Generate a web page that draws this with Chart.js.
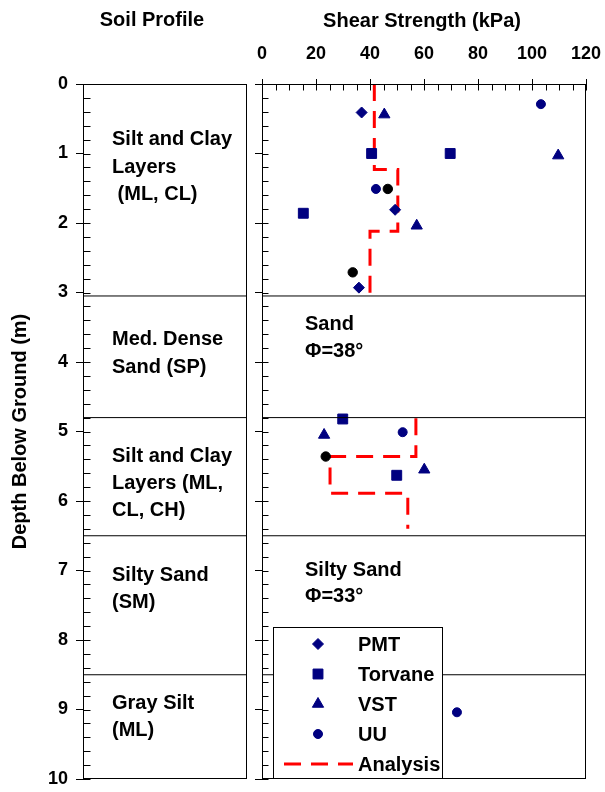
<!DOCTYPE html>
<html lang="en">
<head>
<meta charset="UTF-8">
<title>Soil Profile and Shear Strength</title>
<style>
    body { margin: 0; background: #fff; }
    #wrap { position: relative; width: 605px; height: 792px; }
    canvas { position: absolute; left: 0; top: 0; }
</style>
</head>
<body>
<div id="wrap">
    <canvas id="profileChart" width="605" height="792"></canvas>
    <canvas id="strengthChart" width="605" height="792"></canvas>
</div>

<script src="https://cdn.jsdelivr.net/npm/chart.js"></script>
<script>
    // tick labels
    const depthTicks = [0, 1, 2, 3, 4, 5, 6, 7, 8, 9, 10];
    const strengthTicks = [0, 20, 40, 60, 80, 100, 120];

    // layer boundaries (m) and soil descriptions
    const layerBounds = [3.05, 4.8, 6.5, 8.5];
    const layerNames = [
        ["Silt and Clay", "Layers", " (ML, CL)"],
        ["Med. Dense", "Sand (SP)"],
        ["Silt and Clay", "Layers (ML,", "CL, CH)"],
        ["Silty Sand", "(SM)"],
        ["Gray Silt", "(ML)"]
    ];
    const layerNotes = [
        ["Sand", "Φ=38°"],
        ["Silty Sand", "Φ=33°"]
    ];

    // measurements, x = shear strength (kPa), y = depth (m)
    const pmtData = [{x: 36.9, y: 0.41}, {x: 49.3, y: 1.81}, {x: 35.9, y: 2.93}];
    const torvaneData = [{x: 40.6, y: 1.0}, {x: 69.7, y: 1.0}, {x: 15.3, y: 1.86},
        {x: 29.9, y: 4.82}, {x: 49.9, y: 5.63}];
    const vstData = [{x: 45.3, y: 0.44}, {x: 109.7, y: 1.03}, {x: 57.3, y: 2.04},
        {x: 23.0, y: 5.05}, {x: 60.1, y: 5.55}];
    const uuData = [{x: 103.3, y: 0.29}, {x: 42.2, y: 1.51}, {x: 52.1, y: 5.01}, {x: 72.2, y: 9.04}];
    const uuBlackData = [{x: 46.6, y: 1.51}, {x: 33.6, y: 2.71}, {x: 23.6, y: 5.36}];

    // analysis profile (step line)
    const analysisUpper = [{x: 41.6, y: 0}, {x: 41.6, y: 1.23}, {x: 50.3, y: 1.23}, {x: 50.3, y: 2.12},
        {x: 40.0, y: 2.12}, {x: 40.0, y: 3.03}];
    const analysisLower = [{x: 57.0, y: 4.81}, {x: 57.0, y: 5.36}, {x: 25.2, y: 5.36}, {x: 25.2, y: 5.89},
        {x: 54.0, y: 5.89}, {x: 54.0, y: 6.4}];

    const FONT = '"Liberation Sans", Arial, sans-serif';
    const NAVY = '#000080';
    const RED = '#ff0000';
    const DASH = [17, 10];

    // keep the plot area where it is: no extra room for edge labels
    const noEdgePadding = s => {
        s.paddingTop = 0; s.paddingBottom = 0;
        s.paddingLeft = 0; s.paddingRight = 0;
    };

    // box round the plot area + small inside ticks
    const framePlugin = {
        id: 'frame',
        afterDraw(chart, args, opts) {
            const { ctx, chartArea: a } = chart;
            const L = Math.round(a.left) + 0.5, T = Math.round(a.top) + 0.5;
            const R = Math.round(a.right) - 0.5, B = Math.round(a.bottom) - 0.5;
            ctx.save();
            ctx.strokeStyle = '#000';
            ctx.lineWidth = 1;
            ctx.strokeRect(L, T, R - L, B - T);
            ctx.beginPath();
            const ys = chart.scales.y;
            for (let i = 0; i <= 50; i++) {
                const py = Math.round(ys.getPixelForValue(i * 0.2)) + 0.5;
                ctx.moveTo(L, py);
                ctx.lineTo(L + opts.yTick, py);
            }
            if (opts.xTick) {
                const xs = chart.scales.x;
                for (let v = 0; v <= 120; v += 5) {
                    const px = Math.round(xs.getPixelForValue(v)) + 0.5;
                    ctx.moveTo(px, T);
                    ctx.lineTo(px, T + opts.xTick);
                }
            }
            ctx.stroke();
            ctx.restore();
        }
    };

    // text blocks inside panels
    const textPlugin = {
        id: 'texts',
        afterDraw(chart, args, opts) {
            const { ctx } = chart;
            ctx.save();
            ctx.fillStyle = '#000';
            ctx.textBaseline = 'alphabetic';
            ctx.font = 'bold 20px ' + FONT;
            opts.blocks.forEach((b, i) => {
                opts.lines[i].forEach((t, j) => {
                    ctx.textAlign = 'left';
                    ctx.fillText(t, b.x, b.y + j * b.gap);
                });
            });
            (opts.titles || []).forEach(t => {
                ctx.textAlign = 'center';
                ctx.fillText(t.text, t.x, t.y);
            });
            ctx.restore();
        }
    };

    // boxed legend, bottom left of strength panel
    const legendPlugin = {
        id: 'boxLegend',
        afterDraw(chart) {
            const { ctx } = chart;
            const items = chart.data.datasets.filter(d => !d.noLegend);
            const bx = 273.5, by = 627.5, bw = 169, bh = 151;
            ctx.save();
            ctx.fillStyle = '#fff';
            ctx.fillRect(bx, by, bw, bh);
            ctx.strokeStyle = '#000';
            ctx.lineWidth = 1;
            ctx.strokeRect(bx, by, bw, bh);
            ctx.font = 'bold 20px ' + FONT;
            ctx.textBaseline = 'middle';
            ctx.textAlign = 'left';
            items.forEach((d, i) => {
                const y = 644 + i * 30;
                if (d.showLine) {
                    ctx.save();
                    ctx.strokeStyle = d.borderColor;
                    ctx.lineWidth = d.borderWidth;
                    ctx.setLineDash(d.borderDash);
                    ctx.beginPath();
                    ctx.moveTo(284, y);
                    ctx.lineTo(353, y);
                    ctx.stroke();
                    ctx.restore();
                } else {
                    ctx.fillStyle = d.backgroundColor;
                    ctx.strokeStyle = d.borderColor;
                    Chart.helpers.drawPoint(ctx, {
                        pointStyle: d.pointStyle, radius: d.pointRadius, rotation: 0, borderWidth: 1
                    }, 318, y);
                }
                ctx.fillStyle = '#000';
                ctx.fillText(d.label, 358, y + 1);
            });
            ctx.restore();
        }
    };

    const tickFont = { family: FONT, size: 18, weight: 'bold' };

    // left panel: soil profile
    new Chart(document.getElementById('profileChart'), {
        type: 'scatter',
        data: {
            datasets: layerBounds.map(d => ({
                data: [{x: 0, y: d}, {x: 1, y: d}],
                showLine: true, borderColor: '#000', borderWidth: 1, pointRadius: 0
            }))
        },
        options: {
            responsive: false,
            animation: false,
            events: [],
            layout: { padding: { top: 84, right: 358, bottom: 13, left: 0 } },
            plugins: {
                legend: { display: false },
                tooltip: { enabled: false },
                frame: { yTick: 7 },
                texts: {
                    lines: layerNames,
                    blocks: [
                        {x: 112, y: 145, gap: 27.5},
                        {x: 112, y: 345, gap: 28},
                        {x: 112, y: 462, gap: 27},
                        {x: 112, y: 581, gap: 26.5},
                        {x: 112, y: 709, gap: 26.5}
                    ],
                    titles: [
                        {text: 'Soil Profile', x: 152, y: 26},
                        {text: 'Shear Strength (kPa)', x: 422, y: 27}
                    ]
                }
            },
            scales: {
                x: { type: 'linear', display: false, min: 0, max: 1 },
                y: {
                    type: 'linear', reverse: true, min: 0, max: 10,
                    afterBuildTicks: s => { s.ticks = depthTicks.map(v => ({ value: v })); },
                    afterFit: s => { s.width = 83; noEdgePadding(s); },
                    ticks: { font: tickFont, color: '#000', padding: 8 },
                    grid: { drawOnChartArea: false, color: '#000', tickLength: 7 },
                    border: { color: '#000', width: 1 },
                    title: {
                        display: true, text: 'Depth Below Ground (m)', color: '#000',
                        font: { family: FONT, size: 20, weight: 'bold' },
                        padding: { top: 8, bottom: 0 }
                    }
                }
            }
        },
        plugins: [framePlugin, textPlugin]
    });

    // right panel: shear strength
    new Chart(document.getElementById('strengthChart'), {
        type: 'scatter',
        data: {
            datasets: [
                ...layerBounds.map(d => ({
                    data: [{x: 0, y: d}, {x: 120, y: d}], noLegend: true,
                    showLine: true, borderColor: '#000', borderWidth: 1, pointRadius: 0
                })),
                { label: 'PMT', data: pmtData, pointStyle: 'rectRot', pointRadius: 5.5,
                    backgroundColor: NAVY, borderColor: NAVY },
                { label: 'Torvane', data: torvaneData, pointStyle: 'rect', pointRadius: 7,
                    backgroundColor: NAVY, borderColor: NAVY },
                { label: 'VST', data: vstData, pointStyle: 'triangle', pointRadius: 6.5,
                    backgroundColor: NAVY, borderColor: NAVY },
                { label: 'UU', data: uuData, pointStyle: 'circle', pointRadius: 4.5,
                    backgroundColor: NAVY, borderColor: NAVY },
                { label: 'UU', data: uuBlackData, pointStyle: 'circle', pointRadius: 4.7, noLegend: true,
                    backgroundColor: '#000', borderColor: '#000' },
                { label: 'Analysis', data: analysisUpper, showLine: true, pointRadius: 0,
                    borderColor: RED, borderWidth: 3, borderDash: DASH },
                { label: 'Analysis', data: analysisLower, showLine: true, pointRadius: 0, noLegend: true,
                    borderColor: RED, borderWidth: 3, borderDash: DASH }
            ]
        },
        options: {
            responsive: false,
            animation: false,
            events: [],
            layout: { padding: { top: 0, right: 19, bottom: 13, left: 0 } },
            plugins: {
                legend: { display: false },
                tooltip: { enabled: false },
                frame: { yTick: 6, xTick: 6 },
                texts: {
                    lines: layerNotes,
                    blocks: [
                        {x: 305, y: 330, gap: 26.5},
                        {x: 305, y: 576, gap: 26}
                    ]
                }
            },
            scales: {
                x: {
                    type: 'linear', position: 'top', min: 0, max: 120,
                    afterBuildTicks: s => { s.ticks = strengthTicks.map(v => ({ value: v })); },
                    afterFit: s => { s.height = 84; noEdgePadding(s); },
                    ticks: { font: tickFont, color: '#000', padding: 14 },
                    grid: { drawOnChartArea: false, color: '#000', tickLength: 5 },
                    border: { color: '#000', width: 1 }
                },
                y: {
                    type: 'linear', reverse: true, min: 0, max: 10,
                    afterBuildTicks: s => { s.ticks = depthTicks.map(v => ({ value: v })); },
                    afterFit: s => { s.width = 262; noEdgePadding(s); },
                    ticks: { display: false },
                    grid: { drawOnChartArea: false, color: '#000', tickLength: 7 },
                    border: { color: '#000', width: 1 }
                }
            }
        },
        plugins: [framePlugin, textPlugin, legendPlugin]
    });
</script>
</body>
</html>
